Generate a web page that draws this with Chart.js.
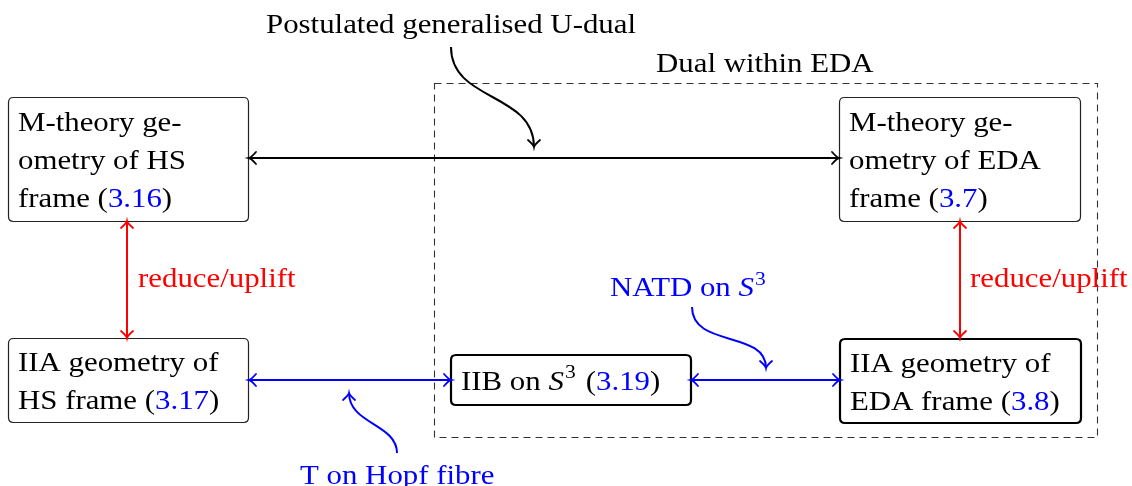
<!DOCTYPE html>
<html><head><meta charset="utf-8">
<script src="https://cdn.jsdelivr.net/npm/chart.js@4"></script>
<style>html,body{margin:0;padding:0;background:#fff}canvas{display:block}</style>
</head><body>
<canvas id="c" width="1132" height="486"></canvas>
<script>
// ---- diagram data (diagram units = page pixels) ----
const nodeText = [
  ['M-theory ge-', 'ometry of HS', 'frame ([3.16])'],
  ['M-theory ge-', 'ometry of EDA', 'frame ([3.7])'],
  ['IIA geometry of', 'HS frame ([3.17])'],
  ['IIB on *S*^3 ([3.19])'],
  ['IIA geometry of', 'EDA frame ([3.8])']
];
const nodeLeft   = [8, 839, 8, 451, 840];
const nodeTop    = [97, 97, 338, 355, 339];
const nodeRight  = [248, 1080, 248, 691, 1081];
const nodeBottom = [221, 221, 422, 405, 423];
const nodeBold   = [false, false, false, true, true];

// straight double arrows: [x1,y1,x2,y2]
const edgeX1 = [249, 127, 960, 249, 691];
const edgeY1 = [158, 221, 221, 380, 380];
const edgeX2 = [839, 127, 960, 451, 840];
const edgeY2 = [158, 338, 338, 380, 380];
const edgeColour = ['#000', '#f00', '#f00', '#00f', '#00f'];

// curved pointer arrows (cubic): start, c1, c2, end
const curvePts = [
  [[451,47],[451,102],[534,92],[534,147]],
  [[397,453],[397,424],[349,424],[349,393]],
  [[692,307],[692,348],[766,330],[766,368]]
];
const curveColour = ['#000', '#00f', '#00f'];

// free labels
const labelText = ['Postulated generalised U-dual', 'Dual within EDA', 'reduce/uplift', 'reduce/uplift', 'NATD on *S*^3', 'T on Hopf fibre'];
const labelX = [266, 656, 138, 970, 610, 300];
const labelY = [33, 72, 287, 287, 296, 484];
const labelColour = ['#000', '#000', '#f00', '#f00', '#00f', '#00f'];

// dashed group frame
const groupBox = [434, 83, 1097, 437];

const FONT = '"Liberation Serif", "DejaVu Serif", serif';
const FS = 27;

function parseRich(s){
  const segs=[]; let blue=false, ital=false, i=0, cur='';
  const push=(sup)=>{ if(cur){segs.push({t:cur,blue,ital,sup:!!sup}); cur='';} };
  while(i<s.length){
    const ch=s[i];
    if(ch==='['){push();blue=true;}
    else if(ch===']'){push();blue=false;}
    else if(ch==='*'){push();ital=!ital;}
    else if(ch==='^'){push();cur=s[i+1];push(true);i++;}
    else cur+=ch;
    i++;
  }
  push();
  return segs;
}

let SX = 1;
function drawRich(ctx, s, x, y, colour){
  const segs=parseRich(s);
  ctx.save();
  ctx.translate(x,y);
  ctx.scale(SX,1);
  ctx.textBaseline='alphabetic';
  ctx.textAlign='left';
  let cx=0;
  for(const g of segs){
    const size = g.sup? FS*0.7 : FS;
    ctx.font = (g.ital?'italic ':'')+size+'px '+FONT;
    ctx.fillStyle = g.blue? '#00f' : colour;
    const dy = g.sup? -FS*0.42 : 0;
    ctx.fillText(g.t, cx + (g.sup?1:0), dy);
    cx += ctx.measureText(g.t).width + (g.sup?3:0);
  }
  ctx.restore();
}

function arrowHead(ctx, x, y, ang, colour){
  ctx.save();
  ctx.translate(x,y); ctx.rotate(ang);
  ctx.strokeStyle=colour; ctx.lineWidth=1.8; ctx.lineCap='round';
  ctx.beginPath();
  ctx.moveTo(-7,-6); ctx.quadraticCurveTo(-2,-0.4,0,0);
  ctx.quadraticCurveTo(-2,0.4,-7,6);
  ctx.stroke();
  ctx.restore();
}

function rrect(ctx,x1,y1,x2,y2,r){
  ctx.beginPath();
  ctx.moveTo(x1+r,y1); ctx.lineTo(x2-r,y1); ctx.quadraticCurveTo(x2,y1,x2,y1+r);
  ctx.lineTo(x2,y2-r); ctx.quadraticCurveTo(x2,y2,x2-r,y2);
  ctx.lineTo(x1+r,y2); ctx.quadraticCurveTo(x1,y2,x1,y2-r);
  ctx.lineTo(x1,y1+r); ctx.quadraticCurveTo(x1,y1,x1+r,y1);
  ctx.closePath();
}

const diagramPlugin = {
  id:'diagram',
  afterDraw(chart){
    const ctx=chart.ctx, xs=chart.scales.x, ys=chart.scales.y;
    const X=v=>xs.getPixelForValue(v), Y=v=>ys.getPixelForValue(v);
    ctx.save();
    // calibrate horizontal stretch to mimic Computer Modern widths
    ctx.font=FS+'px '+FONT;
    SX = 370 / ctx.measureText(labelText[0]).width;

    // dashed group
    ctx.strokeStyle='#333'; ctx.lineWidth=1.1; ctx.setLineDash([7,5]);
    ctx.strokeRect(X(groupBox[0])+0.5, Y(groupBox[1])+0.5, X(groupBox[2])-X(groupBox[0]), Y(groupBox[3])-Y(groupBox[1]));
    ctx.setLineDash([]);

    // nodes
    nodeText.forEach((lines,i)=>{
      const x1=X(nodeLeft[i]), y1=Y(nodeTop[i]), x2=X(nodeRight[i]), y2=Y(nodeBottom[i]);
      ctx.lineWidth = nodeBold[i]?2.2:1.2;
      ctx.strokeStyle = nodeBold[i]?'#000':'#222';
      const o = nodeBold[i]?0:0.5;
      rrect(ctx,x1+o,y1+o,x2+o,y2+o,5);
      ctx.stroke();
      const n=lines.length;
      const mid=(y1+y2)/2;
      lines.forEach((ln,k)=>{
        const base = mid + (k-(n-1)/2)*38 + 9.5;
        drawRich(ctx, ln, x1+10, base, '#000');
      });
    });

    // straight double arrows
    edgeX1.forEach((_,i)=>{
      const x1=X(edgeX1[i]), y1=Y(edgeY1[i]), x2=X(edgeX2[i]), y2=Y(edgeY2[i]);
      ctx.strokeStyle=edgeColour[i]; ctx.lineWidth=2;
      ctx.beginPath(); ctx.moveTo(x1,y1); ctx.lineTo(x2,y2); ctx.stroke();
      const a=Math.atan2(y2-y1,x2-x1);
      arrowHead(ctx,x2,y2,a,edgeColour[i]);
      arrowHead(ctx,x1,y1,a+Math.PI,edgeColour[i]);
    });

    // curved arrows
    curvePts.forEach((p,i)=>{
      const P=p.map(q=>[X(q[0]),Y(q[1])]);
      ctx.strokeStyle=curveColour[i]; ctx.lineWidth=2;
      ctx.beginPath(); ctx.moveTo(P[0][0],P[0][1]);
      ctx.bezierCurveTo(P[1][0],P[1][1],P[2][0],P[2][1],P[3][0],P[3][1]);
      ctx.stroke();
      const a=Math.atan2(P[3][1]-P[2][1],P[3][0]-P[2][0]);
      arrowHead(ctx,P[3][0],P[3][1],a,curveColour[i]);
    });

    // labels
    labelText.forEach((t,i)=>drawRich(ctx,t,X(labelX[i]),Y(labelY[i]),labelColour[i]));
    ctx.restore();
  }
};

new Chart(document.getElementById('c'), {
  type:'scatter',
  data:{datasets:[{
    data: nodeLeft.map((l,i)=>({x:(l+nodeRight[i])/2, y:(nodeTop[i]+nodeBottom[i])/2})),
    pointRadius:0, showLine:false
  }]},
  options:{
    responsive:false, animation:false, events:[],
    layout:{padding:0},
    plugins:{legend:{display:false}, tooltip:{enabled:false}},
    scales:{
      x:{type:'linear', min:0, max:1132, display:false},
      y:{type:'linear', min:0, max:486, reverse:true, display:false}
    }
  },
  plugins:[diagramPlugin]
});
</script>
</body></html>
